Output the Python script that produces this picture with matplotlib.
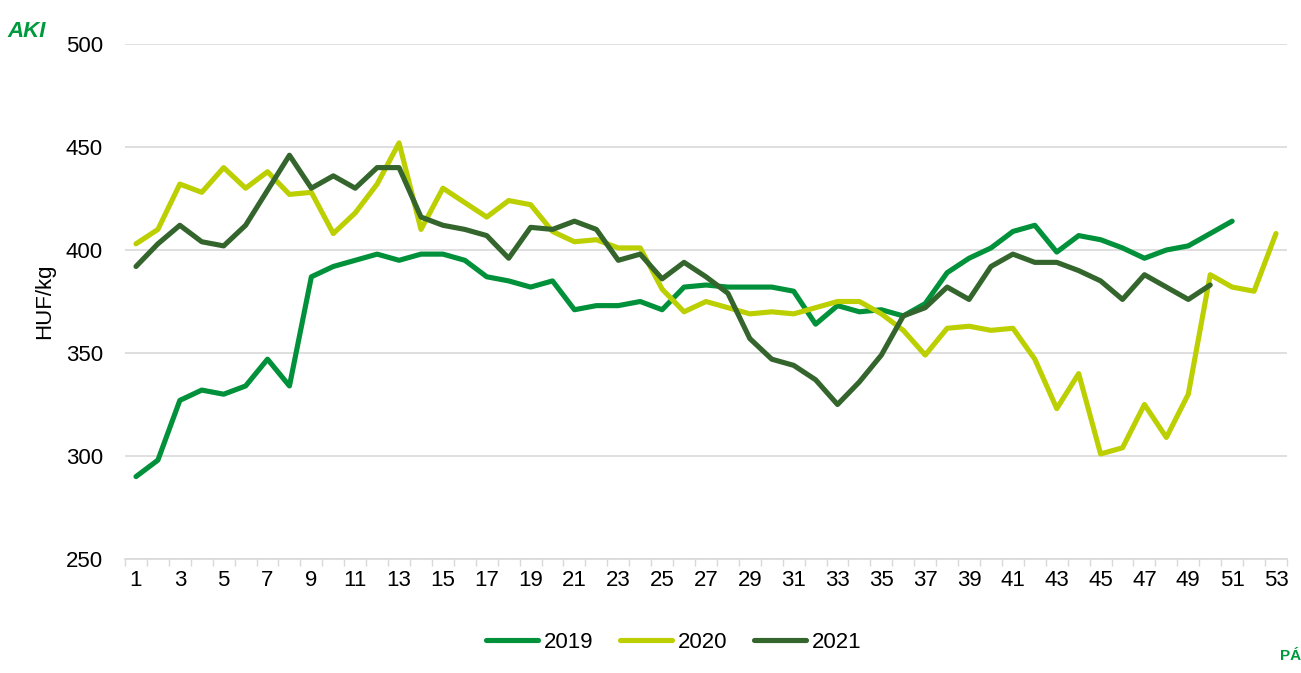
import numpy as np
import matplotlib
matplotlib.use("Agg")
import matplotlib.pyplot as plt

plt.rcParams['font.family'] = ['Liberation Sans', 'DejaVu Sans']

# heti adatok
weeks = list(range(1, 54))

price_2019 = [290, 298, 327, 332, 330, 334, 347, 334, 387, 392,
              395, 398, 395, 398, 398, 395, 387, 385, 382, 385,
              371, 373, 373, 375, 371, 382, 383, 382, 382, 382,
              380, 364, 373, 370, 371, 368, 374, 389, 396, 401,
              409, 412, 399, 407, 405, 401, 396, 400, 402, 408,
              414]

price_2020 = [403, 410, 432, 428, 440, 430, 438, 427, 428, 408,
              418, 432, 452, 410, 430, 423, 416, 424, 422, 409,
              404, 405, 401, 401, 381, 370, 375, 372, 369, 370,
              369, 372, 375, 375, 369, 361, 349, 362, 363, 361,
              362, 347, 323, 340, 301, 304, 325, 309, 330, 388,
              382, 380, 408]

price_2021 = [392, 403, 412, 404, 402, 412, 429, 446, 430, 436,
              430, 440, 440, 416, 412, 410, 407, 396, 411, 410,
              414, 410, 395, 398, 386, 394, 387, 379, 357, 347,
              344, 337, 325, 336, 349, 368, 372, 382, 376, 392,
              398, 394, 394, 390, 385, 376, 388, 382, 376, 383]

series = [("2019", price_2019, "#00913a"),
          ("2020", price_2020, "#bccf00"),
          ("2021", price_2021, "#33652c")]

fig = plt.figure(figsize=(13.01, 6.73), dpi=100)
ax = fig.add_axes([0.0961, 0.1694, 0.8931, 0.7652])

for label, values, color in series:
    ax.plot(weeks[:len(values)], values, color=color, lw=3.7, label=label,
            solid_joinstyle='round', solid_capstyle='round')

ax.set_xlim(0.5, 53.5)
ax.set_ylim(250, 500)
ax.set_yticks(range(250, 501, 50))
ax.set_xticks(weeks[::2])
ax.set_xticks(np.arange(0.5, 54, 1), minor=True)
ax.tick_params(axis='x', which='major', length=0, pad=8, labelsize=16)
ax.tick_params(axis='x', which='minor', length=5, color='#d9d9d9', width=1)
ax.tick_params(axis='y', length=0, pad=16, labelsize=16)

ax.grid(axis='y', color='#d9d9d9', lw=1.2)
ax.set_axisbelow(True)
for side in ['left', 'right', 'top']:
    ax.spines[side].set_visible(False)
ax.spines['bottom'].set_color('#d9d9d9')
ax.spines['bottom'].set_linewidth(1.2)

ax.set_ylabel("HUF/kg", fontsize=16)
ax.yaxis.set_label_coords(-0.060, 0.5)

fig.legend(loc='center', bbox_to_anchor=(0.518, 0.045), ncol=3, frameon=False,
           fontsize=16, handlelength=2.35, columnspacing=1.2, handletextpad=0.25)

# logók helyett szöveg
fig.text(0.006, 0.945, "AKI", color="#009a3e", fontsize=16, fontweight='bold',
         fontstyle='italic')
fig.text(0.984, 0.02, "PÁ", color="#009a3e", fontsize=11, fontweight='bold')

fig.savefig("out.png", dpi=100)
